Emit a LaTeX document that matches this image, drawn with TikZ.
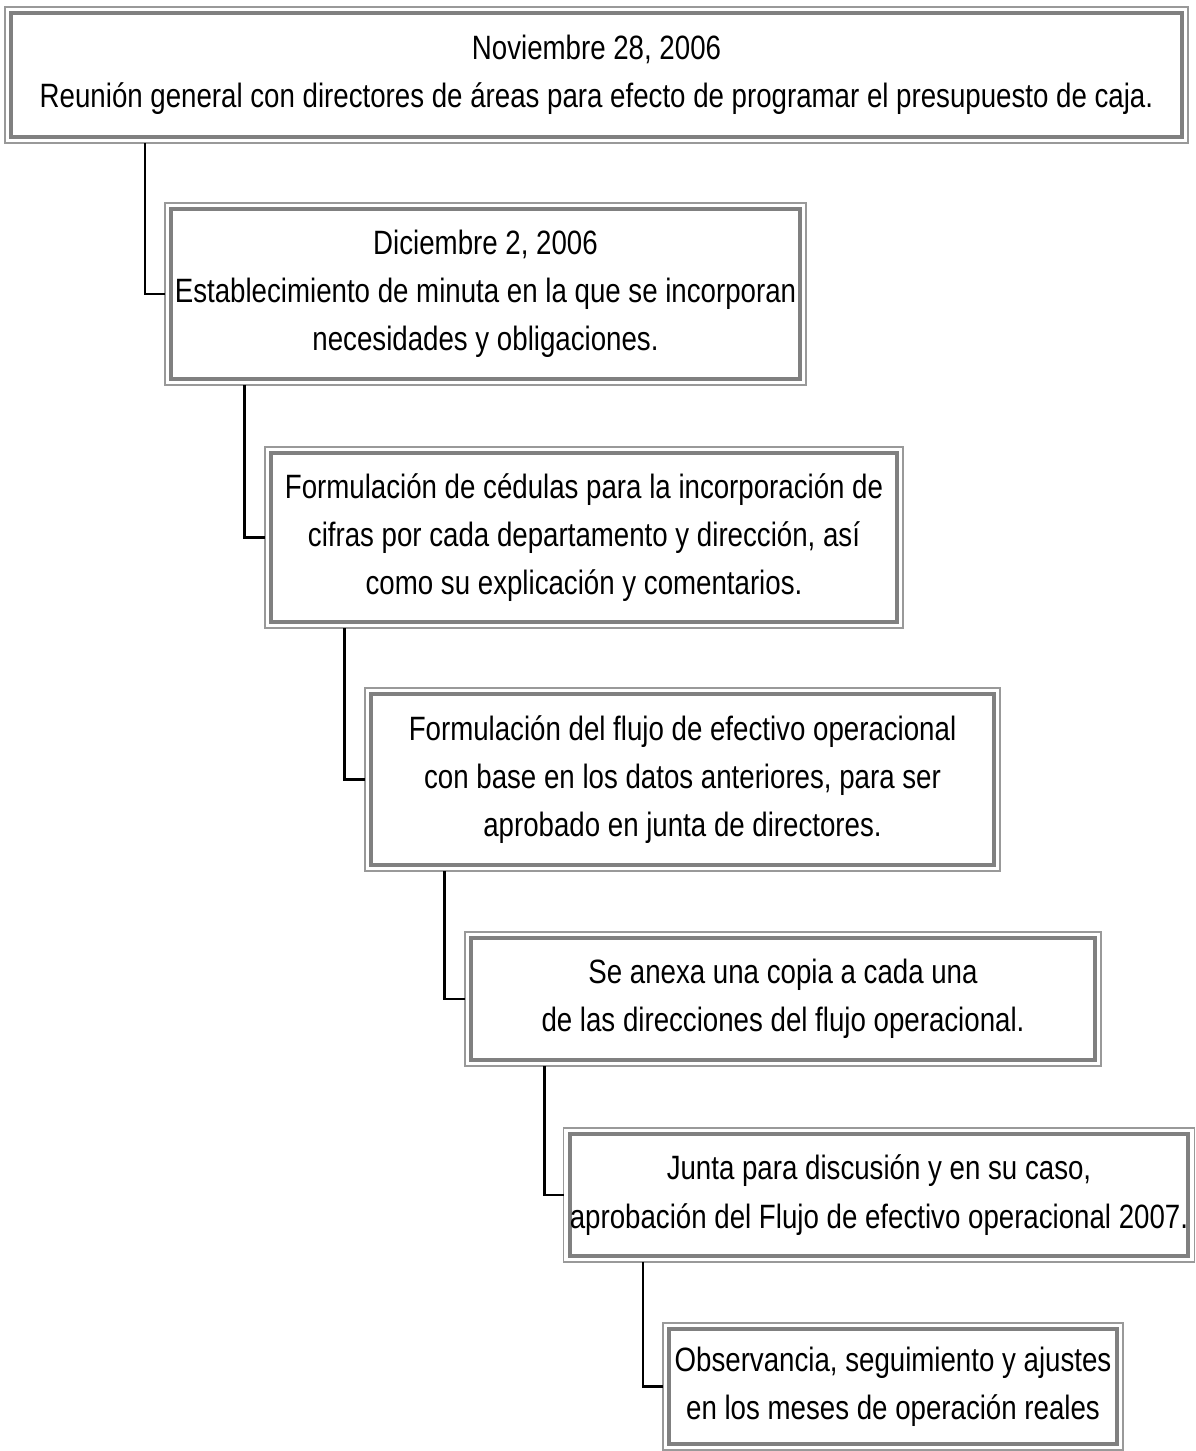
\documentclass[tikz,border=0pt]{standalone}
\usepackage{fontspec}
\setmainfont{Liberation Sans}[FakeStretch=0.82]
\usepackage{tikz}
\usetikzlibrary{positioning, calc}

\begin{document}
\begin{tikzpicture}[
    box/.style={draw=gray, line width=2.3pt, fill=white, inner sep=0pt, outer sep=0pt,
        align=center, font=\fontsize{19.2}{27.4}\selectfont},
    frame/.style={draw=gray!80, line width=0.7pt},
    link/.style={draw=black, line width=1.3pt}
]
    \useasboundingbox (0,0) rectangle (23.9,-29.02);
    \node[box, minimum width=23.42cm, minimum height=2.48cm] (b1) at (11.93,-1.50)
        {Noviembre 28, 2006\\Reunión general con directores de áreas para efecto de programar el presupuesto de caja.};
    \node[box, minimum width=12.58cm, minimum height=3.40cm] (b2) at (9.71,-5.88)
        {Diciembre 2, 2006\\Establecimiento de minuta en la que se incorporan\\necesidades y obligaciones.};
    \node[box, minimum width=12.52cm, minimum height=3.38cm] (b3) at (11.68,-10.75)
        {Formulación de cédulas para la incorporación de\\cifras por cada departamento y dirección, así\\como su explicación y comentarios.};
    \node[box, minimum width=12.46cm, minimum height=3.42cm] (b4) at (13.65,-15.59)
        {Formulación del flujo de efectivo operacional\\con base en los datos anteriores, para ser\\aprobado en junta de directores.};
    \node[box, minimum width=12.48cm, minimum height=2.44cm] (b5) at (15.66,-19.98)
        {Se anexa una copia a cada una\\de las direcciones del flujo operacional.};
    \node[box, minimum width=12.32cm, minimum height=2.44cm] (b6) at (17.58,-23.90)
        {Junta para discusión y en su caso,\\aprobación del Flujo de efectivo operacional 2007.};
    \node[box, minimum width=8.96cm, minimum height=2.30cm] (b7) at (17.86,-27.73)
        {Observancia, seguimiento y ajustes\\en los meses de operación reales};
    \foreach \i in {1,...,7}
        \draw[frame] ([shift={(-0.12,0.12)}]b\i.north west) rectangle ([shift={(0.12,-0.12)}]b\i.south east);
    \foreach \p/\c/\d in {1/2/2.68, 2/3/1.47, 3/4/1.47, 4/5/1.47, 5/6/1.47, 6/7/1.47}
        \draw[link] ([shift={(\d,-0.12)}]b\p.south west) |- ([xshift=-0.12cm]b\c.west);
\end{tikzpicture}
\end{document}
